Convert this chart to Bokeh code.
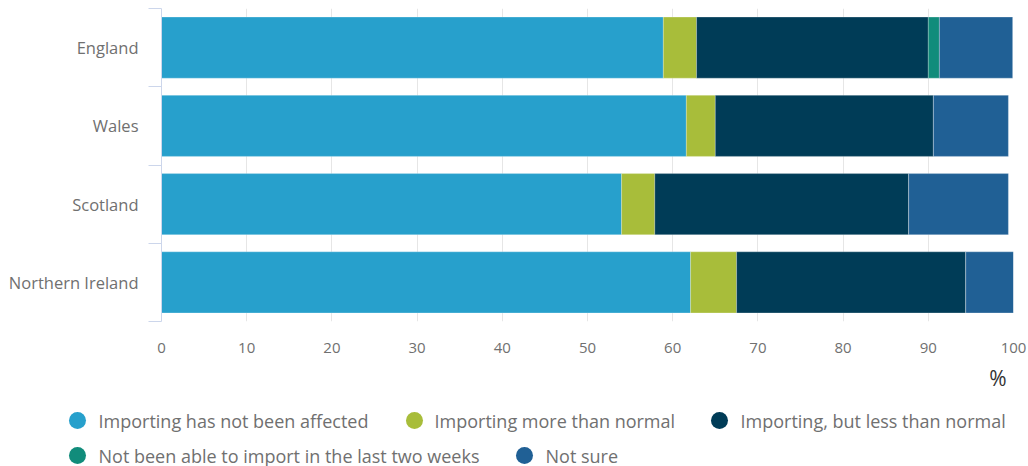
from bokeh.plotting import figure
from bokeh.models import ColumnDataSource, Range1d, FixedTicker
from bokeh.layouts import column
from bokeh.embed import file_html
from bokeh.resources import INLINE
from bokeh.core.properties import value

# Share of businesses by import status, % (by nation)
countries = ["England", "Wales", "Scotland", "Northern Ireland"]
not_affected = [58.9, 61.6, 54.0, 62.1]
more_than_normal = [3.9, 3.4, 3.9, 5.4]
less_than_normal = [27.2, 25.6, 29.8, 26.9]
not_able = [1.3, 0.0, 0.0, 0.0]
not_sure = [8.6, 8.8, 11.7, 5.6]

series_names = [
    "Importing has not been affected",
    "Importing more than normal",
    "Importing, but less than normal",
    "Not been able to import in the last two weeks",
    "Not sure",
]
series_keys = ["not_affected", "more", "less", "not_able", "not_sure"]
series_colors = ["#27a0cc", "#a8bd3a", "#003c57", "#118c7b", "#206095"]
x_ticks = [0, 10, 20, 30, 40, 50, 60, 70, 80, 90, 100]

FONT = "Open Sans"
TEXT_GREY = "#707070"
AXIS_BLUE = "#ccd6eb"

# each country sits in the middle of its own unit band, first one on top
n = len(countries)
centers = [i + 0.5 for i in range(n)]

source = ColumnDataSource(dict(
    pos=centers,
    not_affected=not_affected,
    more=more_than_normal,
    less=less_than_normal,
    not_able=not_able,
    not_sure=not_sure,
))

p = figure(
    width=1028, height=360,
    y_range=Range1d(n, 0),
    x_range=Range1d(0, 100),
    output_backend="svg", toolbar_location=None,
    min_border_left=161, min_border_right=15, min_border_top=8, min_border_bottom=39,
)
p.frame_align = False
p.outline_line_color = None
p.background_fill_color = "white"

p.hbar_stack(series_keys, y="pos", height=0.78, color=series_colors,
             line_color="white", line_width=0.6, line_alpha=0.4, source=source)

# x axis: labels only, vertical grid lines
p.xaxis.ticker = FixedTicker(ticks=x_ticks)
p.xaxis.axis_line_color = None
p.xaxis.major_tick_line_color = None
p.xaxis.minor_tick_line_color = None
p.xaxis.major_label_standoff = 15
p.xaxis.major_label_text_font = FONT
p.xaxis.major_label_text_font_size = "15px"
p.xaxis.major_label_text_color = TEXT_GREY
p.xgrid.grid_line_color = "#e6e6e6"
p.xgrid.ticker = FixedTicker(ticks=x_ticks)
p.ygrid.visible = False

# y axis: country names at band centres, short ticks at band edges
yax = p.yaxis[0]
yax.ticker = FixedTicker(ticks=centers, minor_ticks=list(range(n + 1)))
yax.major_label_overrides = {c: name for c, name in zip(centers, countries)}
yax.major_tick_line_color = None
yax.major_tick_out = 0
yax.major_tick_in = 0
yax.minor_tick_line_color = AXIS_BLUE
yax.minor_tick_out = 13
yax.minor_tick_in = 0
yax.axis_line_color = AXIS_BLUE
yax.major_label_standoff = 10
yax.major_label_text_font = FONT
yax.major_label_text_font_size = "16.5px"
yax.major_label_text_color = TEXT_GREY

# legend strip below the chart, laid out in screen pixels
lg = figure(
    width=1028, height=106,
    x_range=Range1d(0, 1028), y_range=Range1d(106, 0),
    x_axis_location=None, y_axis_location=None,
    output_backend="svg", toolbar_location=None,
    min_border=0,
)
lg.frame_align = False
lg.outline_line_color = None
lg.xgrid.visible = False
lg.ygrid.visible = False

lg.text(x=[1006], y=[17], text=["%"], text_align="right", text_baseline="middle",
        text_font=value(FONT), text_font_size="21px", text_color="#333333")

marker_x = [77, 414, 719, 77, 524]
label_x = [98, 434, 740, 98, 545]
row_y = [60, 60, 60, 95, 95]
lg.scatter(x=marker_x, y=row_y, size=17, color=series_colors, line_color=None)
lg.text(x=label_x, y=row_y, text=series_names, text_align="left",
        text_baseline="middle", text_font=value(FONT), text_font_size="18px",
        text_color=TEXT_GREY)

layout = column(p, lg, spacing=0)
open("out.html", "w").write(file_html(layout, INLINE))
